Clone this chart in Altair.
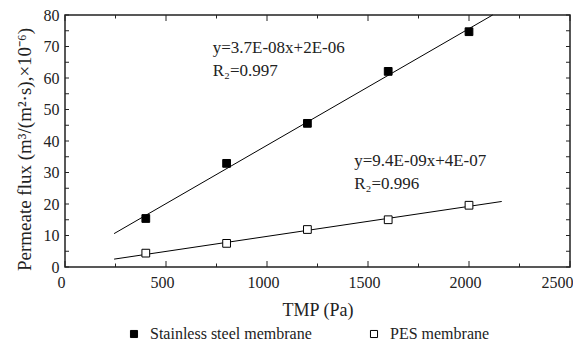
import altair as alt
import pandas as pd

# ---- data ----
tmp = [400, 800, 1200, 1600, 2000]
ss_flux = [15.4, 32.9, 45.6, 62.1, 74.7]
pes_flux = [4.4, 7.5, 11.9, 15.0, 19.6]
series = ["Stainless steel membrane", "PES membrane"]

fit_ss_x = [243, 2117]
fit_ss_y = [10.6, 80.0]
fit_pes_x = [243, 2162]
fit_pes_y = [2.5, 20.8]

eq_text = ["y=3.7E-08x+2E-06", "R\u2082=0.997", "y=9.4E-09x+4E-07", "R\u2082=0.996"]
eq_x = [731, 731, 1432, 1432]
eq_y = [69.4, 62.3, 33.6, 26.5]

x_major = [0, 500, 1000, 1500, 2000, 2500]
x_minor = [250, 750, 1250, 1750, 2250]
y_major = [0, 10, 20, 30, 40, 50, 60, 70, 80]
y_minor = [5, 15, 25, 35, 45, 55, 65, 75]

FONT = "Liberation Serif"
W, H = 505, 252

pts = pd.DataFrame({
    "x": tmp + tmp,
    "y": ss_flux + pes_flux,
    "series": [series[0]] * len(tmp) + [series[1]] * len(tmp),
})
fits = pd.DataFrame({
    "x": fit_ss_x + fit_pes_x,
    "y": fit_ss_y + fit_pes_y,
    "series": [series[0]] * 2 + [series[1]] * 2,
})
eqs = pd.DataFrame({"x": eq_x, "y": eq_y, "t": eq_text})

xs = alt.Scale(domain=[0, 2500], nice=False, zero=False)
ys = alt.Scale(domain=[0, 80], nice=False, zero=False)

xaxis = alt.Axis(
    title="TMP (Pa)", values=x_major, format="d", grid=False, ticks=False, tickSize=0,
    domain=False, labelFont=FONT, labelFontSize=16, labelColor="#222", labelPadding=7,
    labelAlign={"condition": {"test": "datum.value == 2500", "value": "right"}, "value": "center"},
    labelOffset={"condition": {"test": "datum.value == 2500", "value": 3}, "value": -4},
    titleFont=FONT, titleFontSize=18, titleFontWeight="normal",
    titleColor="#222", titleY=43, titleBaseline="middle", labelFlush=False,
)
yaxis = alt.Axis(
    title="Permeate flux (m\u00b3/(m\u00b2\u00b7s),\u00d710\u207b\u2076)", values=y_major, format="d",
    grid=False, ticks=False, tickSize=0, domain=False, labelFont=FONT, labelFontSize=16,
    labelColor="#222", labelPadding=6, titleFont=FONT, titleFontSize=19,
    titleFontWeight="normal", titleColor="#222", titleX=-41, titleY=134,
    titleAngle=270, titleAlign="center", titleBaseline="middle", labelFlush=False,
)

X = alt.X("x:Q", scale=xs, axis=xaxis)
Y = alt.Y("y:Q", scale=ys, axis=yaxis)

lines = alt.Chart(fits).mark_line(color="black", strokeWidth=1).encode(
    x=X, y=Y, detail="series:N",
)

points = alt.Chart(pts).mark_square(size=60, stroke="black", strokeWidth=1, opacity=1).encode(
    x=X, y=Y,
    fill=alt.Fill(
        "series:N",
        scale=alt.Scale(domain=series, range=["black", "white"]),
        legend=alt.Legend(
            title=None, orient="none", legendX=61, legendY=311, direction="horizontal",
            symbolType="square", symbolSize=50, symbolStrokeColor="black",
            symbolStrokeWidth=1, symbolOpacity=1, labelFont=FONT, labelFontSize=16,
            labelColor="#222", labelOffset=8, columnPadding=54, labelLimit=400,
        ),
    ),
)

texts = alt.Chart(eqs).mark_text(
    align="left", baseline="middle", font=FONT, fontSize=17, color="#222"
).encode(x=X, y=Y, text="t:N")

def xticks(vals, length):
    d = pd.DataFrame({"x": vals})
    bottom = alt.Chart(d).mark_rule(color="#222", strokeWidth=1).encode(
        x=X, y=alt.value(H), y2=alt.value(H - length))
    top = alt.Chart(d).mark_rule(color="#222", strokeWidth=1).encode(
        x=X, y=alt.value(0), y2=alt.value(length))
    return [bottom, top]

def yticks(vals, length):
    d = pd.DataFrame({"y": vals})
    left = alt.Chart(d).mark_rule(color="#222", strokeWidth=1).encode(
        y=Y, x=alt.value(0), x2=alt.value(length))
    right = alt.Chart(d).mark_rule(color="#222", strokeWidth=1).encode(
        y=Y, x=alt.value(W), x2=alt.value(W - length))
    return [left, right]

tick_layers = xticks(x_major, 6) + xticks(x_minor, 3.5) + yticks(y_major, 4) + yticks(y_minor, 4)

chart = alt.layer(lines, *tick_layers, points, texts).properties(
    width=W, height=H,
    autosize=alt.AutoSizeParams(type="none"),
    padding={"left": 57, "top": 7, "right": 3, "bottom": 76},
    background="white",
).configure_view(stroke="#222", strokeWidth=1.5)

chart.save("out.html", embed_options={"renderer": "svg", "actions": False})
